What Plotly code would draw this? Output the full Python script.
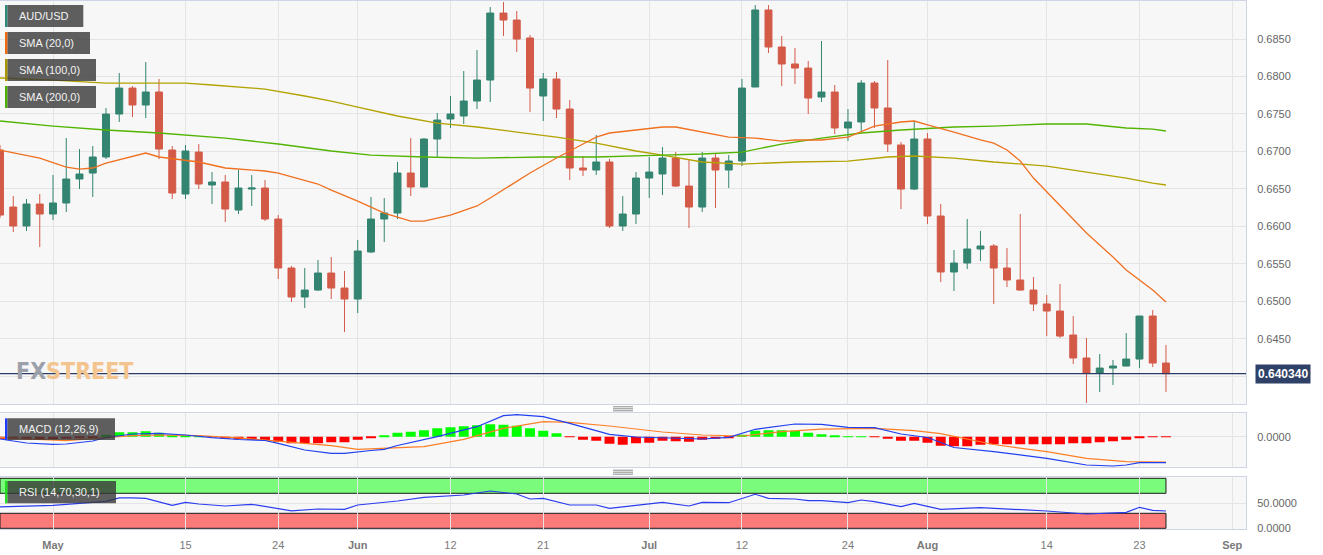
import numpy as np
import pandas as pd
import plotly.graph_objects as go

# ---------------- data ----------------
dates = pd.bdate_range("2023-04-25", "2023-08-25")

opens = [0.67019,0.66258,0.66005,0.66298,0.66165,0.66312,0.66632,0.66712,0.66926,0.67499,
0.67846,0.67620,0.67793,0.67019,0.66432,0.66992,0.66552,0.66592,0.66218,0.66498,
0.66512,0.66098,0.65444,0.65057,0.65150,0.65377,0.65177,0.65030,0.65658,0.66098,
0.66178,0.66712,0.66525,0.67166,0.67433,0.67473,0.67673,0.67953,0.68847,0.68754,
0.68514,0.67740,0.67967,0.67566,0.66779,0.66752,0.66859,0.66005,0.66165,0.66645,
0.66699,0.66912,0.66538,0.66258,0.66912,0.66752,0.66872,0.67860,0.68888,0.68394,
0.68167,0.68113,0.67726,0.67793,0.67313,0.67393,0.67913,0.67580,0.67086,0.66498,
0.67166,0.66138,0.65391,0.65511,0.65698,0.65738,0.65444,0.65284,0.65150,0.64964,
0.64870,0.64550,0.64243,0.64043,0.64109,0.64136,0.64229,0.64803,0.64176]

highs = [0.67086,0.66405,0.66365,0.66432,0.66685,0.67179,0.67032,0.67072,0.67580,0.68047,
0.67873,0.68193,0.67967,0.67072,0.67086,0.67099,0.66725,0.66685,0.66752,0.66685,
0.66619,0.66151,0.65471,0.65444,0.65551,0.65591,0.65404,0.65818,0.66392,0.66378,
0.66859,0.67179,0.67179,0.67513,0.67740,0.68073,0.68354,0.68928,0.68994,0.68874,
0.68554,0.68047,0.68060,0.67686,0.66939,0.67219,0.66899,0.66405,0.66725,0.66926,
0.67059,0.66992,0.66885,0.66992,0.66979,0.66952,0.67967,0.68954,0.68954,0.68541,
0.68380,0.68207,0.68474,0.67887,0.67566,0.67953,0.67940,0.68220,0.67126,0.67393,
0.67246,0.66298,0.65684,0.66098,0.65938,0.65764,0.65711,0.66165,0.65324,0.65084,
0.65230,0.64803,0.64510,0.64296,0.64216,0.64576,0.64803,0.64883,0.64416]

lows = [0.66111,0.65924,0.65938,0.65724,0.66085,0.66191,0.66498,0.66392,0.66899,0.67393,
0.67459,0.67446,0.66899,0.66365,0.66365,0.66498,0.66298,0.66058,0.66165,0.66272,
0.66071,0.65297,0.64990,0.64910,0.65137,0.65030,0.64590,0.64843,0.65644,0.65791,
0.66098,0.66405,0.66520,0.66926,0.67313,0.67366,0.67566,0.67660,0.68541,0.68327,
0.67526,0.67406,0.67446,0.66619,0.66672,0.66685,0.65978,0.65938,0.66031,0.66378,
0.66418,0.66525,0.65978,0.66191,0.66245,0.66512,0.66805,0.67860,0.68314,0.67873,
0.67900,0.67499,0.67660,0.67233,0.67139,0.67273,0.67313,0.66992,0.66231,0.66485,
0.66031,0.65257,0.65137,0.65431,0.65537,0.64964,0.65190,0.65140,0.64870,0.64536,
0.64510,0.64163,0.63642,0.63789,0.63882,0.64130,0.64109,0.64123,0.63789]

closes = [0.66151,0.66005,0.66298,0.66165,0.66312,0.66632,0.66699,0.66926,0.67499,0.67846,
0.67620,0.67793,0.67032,0.66445,0.67006,0.66565,0.66592,0.66231,0.66512,0.66512,
0.66098,0.65444,0.65057,0.65150,0.65377,0.65177,0.65030,0.65671,0.66098,0.66178,
0.66712,0.66525,0.67166,0.67419,0.67499,0.67673,0.67953,0.68847,0.68754,0.68500,
0.67846,0.67967,0.67566,0.66779,0.66752,0.66859,0.66005,0.66165,0.66645,0.66725,
0.66912,0.66538,0.66258,0.66912,0.66752,0.66872,0.67846,0.68888,0.68394,0.68167,
0.68113,0.67713,0.67793,0.67313,0.67393,0.67913,0.67580,0.67099,0.66498,0.67166,
0.66138,0.65391,0.65511,0.65698,0.65738,0.65444,0.65284,0.65150,0.64964,0.64870,
0.64536,0.64243,0.64043,0.64109,0.64136,0.64229,0.64803,0.64176,0.64034]

sma20_idx = [0,3,5,6,7,8,11,12,15,17,20,21,24,25,27,29,31,32,33,34,36,37,40,42,44,45,46,50,51,53,
             55,57,59,60,62,64,66,68,69,70,72,74,75,76,77,78,80,82,84,85,87,88]
sma20_val = [0.67019,0.66912,0.66792,0.66765,0.66779,0.66845,0.66979,0.66926,0.66859,0.66779,
             0.66739,0.66712,0.66565,0.66485,0.66338,0.66178,0.66071,0.66071,0.66111,0.66151,
             0.66272,0.66378,0.66712,0.66912,0.67099,0.67192,0.67246,0.67326,0.67326,0.67259,
             0.67192,0.67179,0.67139,0.67153,0.67153,0.67192,0.67339,0.67393,0.67406,0.67353,
             0.67259,0.67153,0.67112,0.67019,0.66872,0.66645,0.66285,0.65911,0.65591,0.65417,
             0.65150,0.64990]

sma100_idx = [0,4,8,11,14,16,20,23,25,27,30,33,36,39,42,45,48,50,53,56,60,64,67,69,72,75,79,82,85,87,88]
sma100_val = [0.67980,0.67953,0.67913,0.67913,0.67913,0.67887,0.67833,0.67740,0.67673,0.67593,
              0.67473,0.67379,0.67326,0.67259,0.67192,0.67112,0.67006,0.66952,0.66859,0.66832,
              0.66859,0.66872,0.66926,0.66939,0.66912,0.66859,0.66805,0.66725,0.66645,0.66578,0.66552]

sma200_idx = [0,4,8,12,17,21,25,28,32,36,41,45,50,53,56,59,62,65,68,72,75,79,82,85,87,88]
sma200_val = [0.67406,0.67339,0.67286,0.67246,0.67179,0.67099,0.67006,0.66952,0.66926,0.66912,
              0.66926,0.66926,0.66952,0.66966,0.66992,0.67099,0.67179,0.67246,0.67286,0.67326,
              0.67339,0.67366,0.67366,0.67313,0.67299,0.67273]

macd_idx = [0,2,4,5,7,8,10,12,14,16,18,20,21,23,25,26,28,29,30,32,33,36,38,39,41,43,46,48,50,53,
            55,57,60,62,64,66,68,70,72,75,79,82,84,85,86,88]
macd_val = [-0.00046,-0.00126,-0.00152,-0.00146,-0.00086,-0.00016,0.00054,0.00068,0.00034,-0.0002,
            -0.00056,-0.00076,-0.00132,-0.00266,-0.00332,-0.00332,-0.00276,-0.00252,-0.00176,-0.00066,
            0.0,0.0020,0.0042,0.0044,0.0040,0.00268,0.00048,-0.00006,-0.00016,-0.00046,
            -0.00012,0.00148,0.00254,0.00248,0.00188,0.0018,0.00054,-0.00016,-0.00216,-0.0030,
            -0.00432,-0.00566,-0.00586,-0.00566,-0.0052,-0.0052]

signal_idx = [0,2,5,7,8,10,12,15,18,20,23,25,27,32,35,38,41,43,46,50,53,56,59,62,66,69,71,75,79,82,85,88]
signal_val = [-0.00012,-0.00046,-0.0008,-0.00042,-0.00026,0.0002,0.00034,0.0002,-0.00024,-0.00066,
              -0.00128,-0.0018,-0.00252,-0.002,-0.00052,0.00168,0.003,0.00288,0.00214,0.00094,
              0.00034,0.00014,0.001,0.0015,0.00168,0.0012,0.0006,-0.00156,-0.003,-0.00432,
              -0.005,-0.00506]

hist = [-0.0004,-0.0005,-0.0005,-0.0005,-0.0005,-0.0004,-0.0003,-0.0002,0.0004,0.0009,
        0.0009,0.0011,0.0008,0.0003,0.0001,0.00005,-0.0001,-0.0004,-0.0005,-0.0006,
        -0.0007,-0.0010,-0.0013,-0.0013,-0.0013,-0.0011,-0.0011,-0.0006,-0.0002,0.0002,
        0.0008,0.0010,0.0013,0.0017,0.0019,0.0021,0.0023,0.0025,0.0024,0.0022,
        0.0017,0.0012,0.0007,-0.0001,-0.0006,-0.0008,-0.0014,-0.0016,-0.0013,-0.0012,
        -0.0008,-0.0009,-0.0010,-0.0006,-0.0004,-0.0002,0.0004,0.0012,0.0013,0.0013,
        0.0012,0.0008,0.0005,0.0002,0.00005,0.00003,-0.00005,-0.0004,-0.0008,-0.0008,
        -0.0012,-0.0018,-0.0019,-0.0019,-0.0016,-0.0015,-0.0015,-0.0015,-0.0015,-0.0015,
        -0.0015,-0.0013,-0.0013,-0.0011,-0.0009,-0.0006,-0.0002,-0.0001,-0.0001]

rsi_idx = [0,4,8,9,10,11,13,14,15,17,19,21,22,24,26,27,30,32,35,37,
           39,40,41,43,45,46,48,50,52,53,55,57,58,60,61,62,64,65,66,68,
           69,71,74,75,79,82,85,86,87,88]
rsi_val = [43,46,54,61,61,60,46,52,48.6,44.6,48,38.6,35,38.6,38,46.6,54.6,62,66.6,74.6,
           68.6,58.6,60,46.6,46.6,40,46.6,52,44.6,52,51.2,68,60,58.6,55.2,55.2,51.2,56.6,53.2,43.2,
           50,38,41.2,40,34.6,28.6,32,42,36,34.6]
rsi_upper, rsi_lower = 70, 30

price_ticks = [0.6400,0.6450,0.6500,0.6550,0.6600,0.6650,0.6700,0.6750,0.6800,0.6850,0.6900]
price_ticktext = ["","0.6450","0.6500","0.6550","0.6600","0.6650","0.6700","0.6750","0.6800","0.6850",""]

tick_dates = ["2023-05-01","2023-05-15","2023-05-24","2023-06-01","2023-06-12","2023-06-21",
              "2023-07-03","2023-07-12","2023-07-24","2023-08-01","2023-08-14","2023-08-23","2023-09-01"]
tick_text = ["<b>May</b>","15","24","<b>Jun</b>","12","21","<b>Jul</b>","12","24",
             "<b>Aug</b>","14","23","<b>Sep</b>"]

# ---------------- geometry ----------------
W, H = 1323, 555
def fx(p): return p / W
def fy(p): return 1 - p / H

full_days = pd.bdate_range("2023-04-25", "2023-09-01")
tick_pos = [full_days.get_loc(pd.Timestamp(d)) for d in tick_dates]
x = np.arange(len(opens))
XR = [0, 94.04]

FONT = "Liberation Sans, Arial, sans-serif"
GREEN_C = "#338470"
RED_C = "#d45a48"
GRID = "#e4e4e4"
BORDER = "#cfd5e6"

fig = go.Figure()

fig.add_trace(go.Candlestick(
    x=x, open=opens, high=highs, low=lows, close=closes,
    increasing=dict(line=dict(color=GREEN_C, width=1), fillcolor=GREEN_C),
    decreasing=dict(line=dict(color=RED_C, width=1), fillcolor=RED_C),
    xaxis="x", yaxis="y", showlegend=False, hoverinfo="skip"))

fig.add_trace(go.Scatter(x=sma100_idx, y=sma100_val, mode="lines",
                         line=dict(color="#b3a300", width=1.3), xaxis="x", yaxis="y", showlegend=False))
fig.add_trace(go.Scatter(x=sma200_idx, y=sma200_val, mode="lines",
                         line=dict(color="#52b400", width=1.3), xaxis="x", yaxis="y", showlegend=False))
fig.add_trace(go.Scatter(x=sma20_idx, y=sma20_val, mode="lines",
                         line=dict(color="#f07020", width=1.3), xaxis="x", yaxis="y", showlegend=False))

# price tag triangle
fig.add_trace(go.Scatter(x=[XR[1] + 0.55], y=[closes[-1]], mode="markers",
                         marker=dict(symbol="triangle-left", size=11, color="#2f4166"),
                         cliponaxis=False, xaxis="x", yaxis="y", showlegend=False, hoverinfo="skip"))

# MACD
fig.add_trace(go.Bar(x=x, y=hist, width=0.75,
                     marker=dict(color=["#00ff00" if v >= 0 else "#ff0000" for v in hist], line=dict(width=0)),
                     xaxis="x2", yaxis="y2", showlegend=False))
fig.add_trace(go.Scatter(x=signal_idx, y=signal_val, mode="lines",
                         line=dict(color="#ff7f27", width=1.2), xaxis="x2", yaxis="y2", showlegend=False))
fig.add_trace(go.Scatter(x=macd_idx, y=macd_val, mode="lines",
                         line=dict(color="#2040f0", width=1.2), xaxis="x2", yaxis="y2", showlegend=False))

# RSI
fig.add_trace(go.Scatter(x=rsi_idx, y=rsi_val, mode="lines",
                         line=dict(color="#2a3cf0", width=1.2), xaxis="x3", yaxis="y3", showlegend=False))

xdom = [0, fx(1246)]
common_x = dict(range=XR, domain=xdom, tickvals=tick_pos, ticktext=tick_text, showgrid=True,
                gridcolor=GRID, zeroline=False, showline=True, linecolor=BORDER, mirror=True,
                ticks="", fixedrange=True, automargin=False)
common_y = dict(side="right", showgrid=True, gridcolor=GRID, zeroline=False, showline=True,
                linecolor=BORDER, mirror=True, ticklabelstandoff=8, automargin=False,
                tickfont=dict(size=11, color="#666"), ticks="", fixedrange=True)

fig.update_layout(
    width=W, height=H, margin=dict(l=0, r=0, t=0, b=0, autoexpand=False),
    paper_bgcolor="white", plot_bgcolor="#f7f7f7",
    font=dict(family=FONT, size=11, color="#6a6a6a"),
    boxgap=0.25, bargap=0.25, showlegend=False, hovermode=False,
    xaxis=dict(common_x, anchor="y", showticklabels=False, rangeslider=dict(visible=False)),
    xaxis2=dict(common_x, anchor="y2", showticklabels=False, matches="x"),
    xaxis3=dict(common_x, anchor="y3", showticklabels=True, matches="x",
                tickfont=dict(size=11, color="#7a7a7a"), ticklabelstandoff=6),
    yaxis=dict(common_y, domain=[fy(404), fy(1)], range=[0.63629, 0.69008],
               tickvals=price_ticks, ticktext=price_ticktext, anchor="x"),
    yaxis2=dict(common_y, domain=[fy(467.3), fy(413.3)], range=[-0.00612, 0.00468],
                tickvals=[0], ticktext=["0.0000"], anchor="x2"),
    yaxis3=dict(common_y, domain=[fy(529), fy(476.7)], range=[-1.4, 103.2],
                tickvals=[0, 50], ticktext=["0.0000", "50.0000"], anchor="x3"),
)

shapes = []
# last price line
shapes.append(dict(type="line", xref="x domain", x0=0, x1=1, yref="y", y0=closes[-1], y1=closes[-1],
                   line=dict(color="#2a3b66", width=1.2), layer="above"))
# RSI bands
shapes.append(dict(type="rect", xref="x3", yref="y3", x0=x[0], x1=x[-1], y0=rsi_upper, y1=100,
                   fillcolor="rgba(0,255,0,0.5)", line=dict(color="#1c1c1c", width=1), layer="below"))
shapes.append(dict(type="rect", xref="x3", yref="y3", x0=x[0], x1=x[-1], y0=0, y1=rsi_lower,
                   fillcolor="rgba(255,0,0,0.5)", line=dict(color="#1c1c1c", width=1), layer="below"))

# legend boxes
legend_items = [("AUD/USD", "#2e8a76", 5, 27, 83.3),
                ("SMA (20,0)", "#f06a10", 32, 54, 90),
                ("SMA (100,0)", "#a99600", 59, 81, 96),
                ("SMA (200,0)", "#4fae00", 86, 108, 96),
                ("MACD (12,26,9)", "#1e3cff", 418.3, 440, 115),
                ("RSI (14,70,30,1)", "#22dd22", 481, 503.3, 116)]
annotations = []
for label, col, y0, y1, xr in legend_items:
    shapes.append(dict(type="rect", xref="paper", yref="paper", x0=fx(7.3), x1=fx(xr), y0=fy(y1), y1=fy(y0),
                       fillcolor="rgba(55,55,55,0.8)", line=dict(width=0), layer="above"))
    shapes.append(dict(type="rect", xref="paper", yref="paper", x0=fx(5), x1=fx(7.3), y0=fy(y1), y1=fy(y0),
                       fillcolor=col, line=dict(width=0), layer="above"))
    annotations.append(dict(text=label, xref="paper", yref="paper", x=fx(16.5), y=fy((y0 + y1) / 2),
                            xanchor="left", yanchor="middle", showarrow=False,
                            font=dict(family=FONT, size=11, color="#f2f2f2")))

# grips between panels
for yy in (406.8, 408.8, 410.8, 470.2, 472.2, 474.2):
    shapes.append(dict(type="line", xref="paper", yref="paper", x0=fx(613), x1=fx(633),
                       y0=fy(yy), y1=fy(yy), line=dict(color="#8a8a8a", width=1)))

# price tag
annotations.append(dict(text="<b>%.6f</b>" % closes[-1], xref="paper", yref="y", x=fx(1255), y=closes[-1],
                        xanchor="left", yanchor="middle", showarrow=False, bgcolor="#2f4166",
                        borderpad=2, font=dict(family=FONT, size=12, color="white")))

# watermark
annotations.append(dict(text='<span style="color:#9ca0a9">FX</span><span style="color:#f3c48e">STREET</span>',
                        xref="paper", yref="paper", x=fx(14), y=fy(371), xanchor="left", yanchor="middle",
                        showarrow=False,
                        font=dict(family="DejaVu Sans Condensed, Liberation Sans Narrow, sans-serif",
                                  size=23, weight=700, color="#f3c48e")))

fig.update_layout(shapes=shapes, annotations=annotations)
fig.write_html("out.html", config={"displayModeBar": False},
               post_script="document.body.style.margin='0px';document.body.style.padding='0px';")
